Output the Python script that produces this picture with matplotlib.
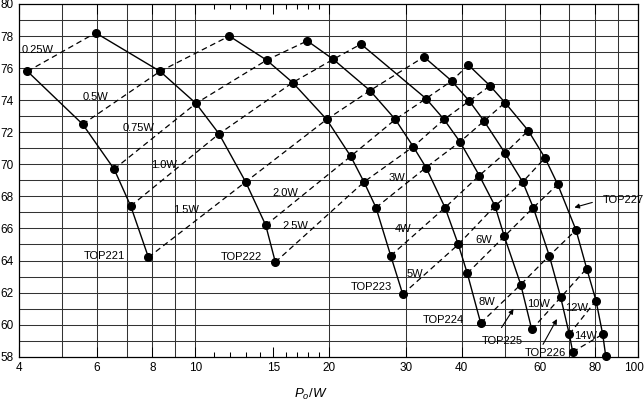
import matplotlib
matplotlib.use('Agg')
import matplotlib.pyplot as plt
from matplotlib.transforms import ScaledTranslation

plt.rcParams['font.family'] = ['Liberation Sans', 'DejaVu Sans']
plt.rcParams['mathtext.fontset'] = 'custom'
plt.rcParams['mathtext.it'] = 'Liberation Sans:italic'
plt.rcParams['mathtext.rm'] = 'Liberation Sans'

# efficiency (%) against output power Po (W) for each device,
# lvl = dissipation (W) of each point, dashed lines join equal lvl
devices = ['TOP221', 'TOP222', 'TOP223', 'TOP224', 'TOP225', 'TOP226', 'TOP227']

po_221 = [4.18, 5.57, 6.56, 7.15, 7.84]
eff_221 = [75.8, 72.5, 69.7, 67.4, 64.2]
lvl_221 = [0.25, 0.5, 0.75, 1.0, 1.5]

po_222 = [5.96, 8.33, 10.04, 11.32, 13.0, 14.43, 15.17]
eff_222 = [78.2, 75.8, 73.8, 71.9, 68.9, 66.2, 63.9]
lvl_222 = [0.25, 0.5, 0.75, 1.0, 1.5, 2.0, 2.5]

po_223 = [11.94, 14.5, 16.6, 19.81, 22.45, 24.05, 25.6, 27.64, 29.42]
eff_223 = [78.0, 76.5, 75.1, 72.8, 70.5, 68.9, 67.3, 64.3, 61.9]
lvl_223 = [0.5, 0.75, 1.0, 1.5, 2.0, 2.5, 3, 4, 5]

po_224 = [17.91, 20.5, 24.82, 28.31, 31.08, 33.21, 36.66, 39.28, 41.16, 44.13]
eff_224 = [77.7, 76.55, 74.6, 72.8, 71.1, 69.8, 67.3, 65.0, 63.2, 60.1]
lvl_224 = [0.75, 1.0, 1.5, 2.0, 2.5, 3, 4, 5, 6, 8]

po_225 = [23.68, 33.21, 36.47, 39.63, 43.81, 47.54, 49.9, 54.35, 57.55]
eff_225 = [77.5, 74.1, 72.8, 71.4, 69.3, 67.4, 65.5, 62.5, 59.7]
lvl_225 = [1.0, 2.0, 2.5, 3, 4, 5, 6, 8, 10]

po_226 = [32.86, 37.95, 41.59, 44.9, 50.08, 54.9, 58.01, 63.05, 66.9, 69.96, 71.21]
eff_226 = [76.7, 75.2, 73.95, 72.7, 70.7, 68.9, 67.3, 64.3, 61.7, 59.4, 58.3]
lvl_226 = [1.5, 2.0, 2.5, 3, 4, 5, 6, 8, 10, 12, 14]

po_227 = [41.38, 46.32, 50.08, 56.52, 61.65, 65.86, 72.44, 76.58, 80.38, 83.23, 84.54]
eff_227 = [76.2, 74.9, 73.85, 72.1, 70.4, 68.75, 65.9, 63.5, 61.5, 59.4, 58.05]
lvl_227 = [2.0, 2.5, 3, 4, 5, 6, 8, 10, 12, 14, 16]

curves = [(po_221, eff_221, lvl_221), (po_222, eff_222, lvl_222),
          (po_223, eff_223, lvl_223), (po_224, eff_224, lvl_224),
          (po_225, eff_225, lvl_225), (po_226, eff_226, lvl_226),
          (po_227, eff_227, lvl_227)]

level_vals = [0.25, 0.5, 0.75, 1.0, 1.5, 2.0, 2.5, 3, 4, 5, 6, 8, 10, 12, 14]
level_text = ['0.25W', '0.5W', '0.75W', '1.0W', '1.5W', '2.0W', '2.5W', '3W',
              '4W', '5W', '6W', '8W', '10W', '12W', '14W']
level_tx = [4.40, 5.95, 7.45, 8.50, 9.51, 15.95, 16.85, 28.56, 29.54, 31.36,
            44.9, 45.48, 59.76, 72.82, 76.31]
level_ty = [77.13, 74.2, 72.24, 69.96, 67.12, 68.18, 66.15, 69.12, 65.94, 63.13,
            65.25, 61.44, 61.26, 61.04, 59.32]

dev_tx = [6.24, 12.72, 25.01, 36.28, 49.30, 61.65, 83.4]
dev_ty = [64.28, 64.22, 62.35, 60.26, 58.95, 58.26, 67.78]

# arrows from label to curve: (tail x, tail y, head x, head y)
arrows = [(48.79, 59.67, 52.75, 61.12),
          (60.6, 58.62, 66.07, 60.50),
          (79.96, 67.67, 70.84, 67.26)]

xtick_vals = [4, 6, 8, 10, 15, 20, 30, 40, 60, 80, 100]
xgrid = [5, 6, 7, 8, 9, 10, 20, 30, 40, 50, 60, 70, 80, 90]
xminor = [11, 12, 13, 14, 16, 17, 18, 19]
yticks = list(range(58, 81, 2))

fig = plt.figure(figsize=(6.44, 4.01), dpi=100)
ax = fig.add_axes([19 / 644, 1 - 356.7 / 401, 619 / 644, 352.7 / 401])
ax.set_xscale('log')
ax.set_xlim(4, 100)
ax.set_ylim(58, 80)

gc = '#333333'
for gx in xgrid:
    ax.axvline(gx, color=gc, lw=0.75, zorder=1)
for gy in range(59, 80):
    ax.axhline(gy, color=gc, lw=0.75, zorder=1)

for lv in level_vals:
    xs, ys = [], []
    for po, eff, lvl in curves:
        if lv in lvl:
            i = lvl.index(lv)
            xs.append(po[i])
            ys.append(eff[i])
    if len(xs) > 1:
        ax.plot(xs, ys, color='k', ls=(0, (4.5, 3)), lw=0.9, zorder=3)

for po, eff, lvl in curves:
    ax.plot(po, eff, color='k', lw=1.0, marker='o', ms=5.5, zorder=4, clip_on=False)

for t, x, y in zip(level_text, level_tx, level_ty):
    ax.text(x, y, t, fontsize=8, ha='center', va='center', zorder=5)

for t, x, y in zip(devices, dev_tx, dev_ty):
    ha = 'left' if t == 'TOP227' else 'center'
    ax.text(x, y, t, fontsize=8, ha=ha, va='center', zorder=5)

for x0, y0, x1, y1 in arrows:
    ax.annotate('', xy=(x1, y1), xytext=(x0, y0),
                arrowprops=dict(arrowstyle='-|>', lw=0.8, color='k', mutation_scale=7))

ax.set_xticks(xtick_vals)
ax.set_xticklabels([str(v) for v in xtick_vals])
ax.set_xticks(xminor, minor=True)
ax.set_xticklabels([], minor=True)
ax.tick_params(axis='x', which='major', direction='in', length=7, width=0.75,
               top=True, bottom=True, labelsize=8.5, pad=4)
ax.tick_params(axis='x', which='minor', direction='in', length=3.6, width=0.75,
               top=True, bottom=True)
ax.set_yticks(yticks)
ax.set_yticklabels([str(v) for v in yticks])
ax.tick_params(axis='y', length=0, labelsize=8.5, pad=4)

# the last label sits flush with the right edge, as in the original
last = ax.get_xticklabels()[-1]
last.set_horizontalalignment('right')
last.set_transform(last.get_transform() + ScaledTranslation(4 / 72, 0, fig.dpi_scale_trans))

for s in ax.spines.values():
    s.set_linewidth(0.9)
    s.set_color('k')

ax.set_xlabel(r'$P_o/W$', fontsize=9.5)
ax.xaxis.set_label_coords(0.472, -0.085)

fig.savefig('out.png', dpi=100)
